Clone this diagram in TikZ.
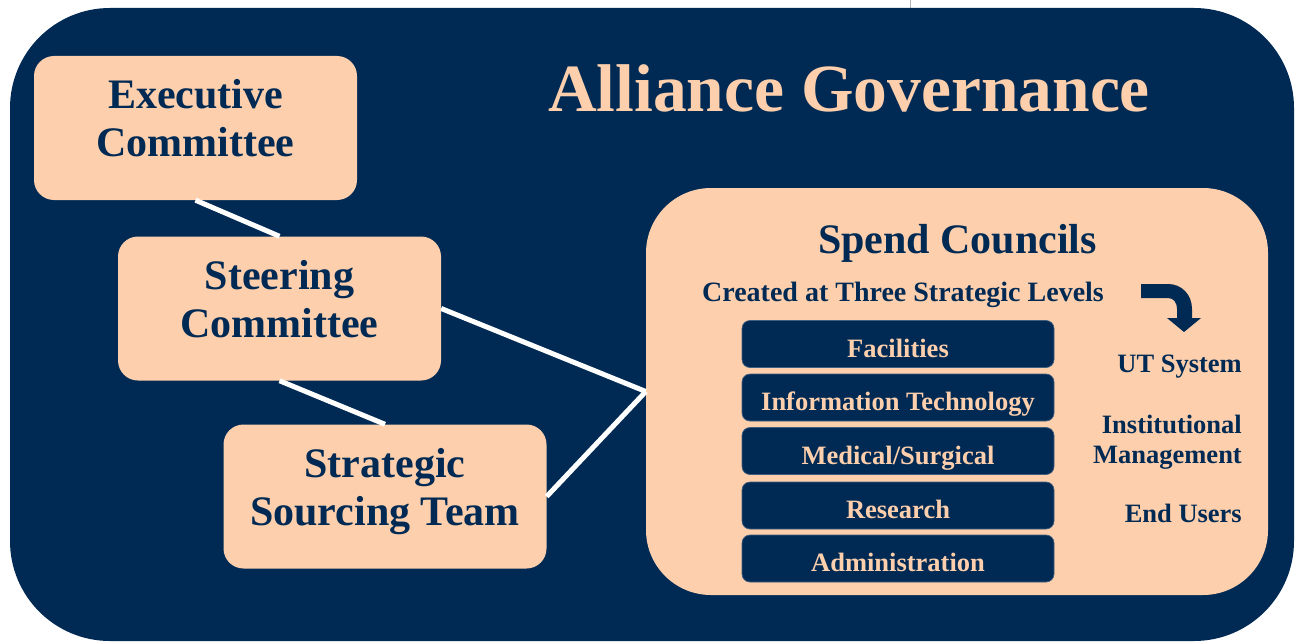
\documentclass[tikz,border=0pt]{standalone}
\usepackage{fontspec}
\setmainfont{Liberation Serif}
\definecolor{navy}{HTML}{002A54}
\definecolor{peach}{HTML}{FDCFAC}
\begin{document}
\begin{tikzpicture}[x=1pt,y=-1pt,
  panel/.style={fill=peach, draw=none, rounded corners=20pt, inner sep=0pt, minimum width=323pt, minimum height=144pt},
  boxtxt/.style={text=navy, font=\fontsize{42}{48}\selectfont\bfseries, align=center},
  conn/.style={draw=white, line width=5pt},
  bar/.style={fill=navy, draw=navy!75!white, line width=0.7pt, rounded corners=8pt, inner sep=0pt,
    minimum width=312pt, minimum height=47pt, text=peach,
    font=\fontsize{26.5}{30}\selectfont\bfseries, text height=26pt, text depth=0pt},
  lvl/.style={text=navy, font=\fontsize{26.5}{30}\selectfont\bfseries, align=right, anchor=east, inner sep=0pt}
]
\useasboundingbox (0,0) rectangle (1295,642);
\fill[white] (0,0) rectangle (1295,642);
\draw[gray!60, line width=1pt] (910,0) -- (910,8);
\fill[navy, rounded corners=100pt] (10,8) rectangle (1294,641);

% panels
\node[panel] (exec) at (195.5,128) {};
\node[panel] (steer) at (279.5,308.5) {};
\node[panel] (strat) at (385,496.5) {};
\node[panel, rounded corners=65pt, minimum width=622pt, minimum height=407pt] (spend) at (957,391.5) {};

% connectors
\draw[conn] (exec.south) -- (steer.north);
\draw[conn] (steer.south) -- (strat.north);
\draw[conn] (steer.east) -- (spend.west);
\draw[conn] (strat.east) -- (spend.west);

% texts
\node[boxtxt] (exect) at (195.5,118.5) {Executive\\Committee};
\node[boxtxt] (steert) at (279.5,299.5) {Steering\\Committee};
\node[boxtxt] (stratt) at (385,492) {Strategic\\Sourcing Team};

\node[anchor=base, text=peach, font=\fontsize{67.5}{72}\selectfont\bfseries] (title) at (849,111) {Alliance Governance};

\node[anchor=base, text=navy, font=\fontsize{42}{48}\selectfont\bfseries] (sc) at (957.5,253) {Spend Councils};
\node[anchor=base, text=navy, font=\fontsize{28}{32}\selectfont\bfseries] (cr) at (903,301) {Created at Three Strategic Levels};

\node[bar] (b1) at (898,344) {Facilities};
\node[bar] (b2) at (898,397.5) {Information Technology};
\node[bar] (b3) at (898,451) {Medical/Surgical};
\node[bar] (b4) at (898,505.5) {Research};
\node[bar] (b5) at (898,558.5) {Administration};

\node[lvl, anchor=base east] (l1) at (1242,372) {UT System};
\node[lvl] (l2) at (1242,442) {Institutional\\Management};
\node[lvl, anchor=base east] (l3) at (1242,522) {End Users};

% curved arrow
\fill[navy] (1141,284) -- (1168,284) .. controls (1182,284) and (1192,295) .. (1192,309)
  -- (1192,318) -- (1201,318) -- (1184,332) -- (1167,318) -- (1177,318) -- (1177,309)
  .. controls (1177,303) and (1174,298) .. (1168,298) -- (1141,298) -- cycle;
\end{tikzpicture}
\end{document}
